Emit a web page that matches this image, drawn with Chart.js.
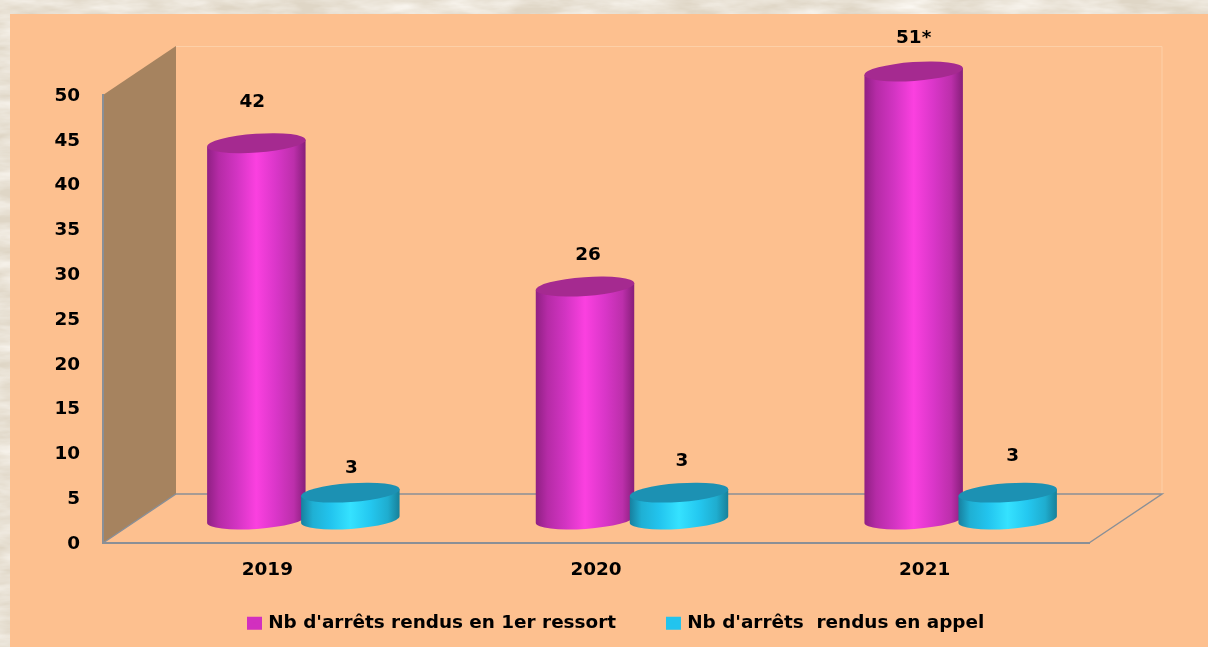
<!DOCTYPE html>
<html>
<head>
<meta charset="utf-8">
<title>Arrêts rendus</title>
<script src="https://cdn.jsdelivr.net/npm/chart.js@4"></script>
<style>
  html, body { margin: 0; height: 100%; overflow: hidden; background: #e9e2d5; }
  #texture { position: absolute; left: 0; top: 0; }
  #panel { position: absolute; left: 10px; top: 14px; width: 1198px; height: 633px; background: #fdc08f; }
  #myChart { position: absolute; left: 0; top: 0; }
</style>
</head>
<body>
<svg id="texture" width="1208" height="647">
  <filter id="paper">
    <feTurbulence type="fractalNoise" baseFrequency="0.018 0.07" numOctaves="4" seed="7"/>
    <feColorMatrix type="matrix" values="0 0 0 0 0.96  0 0 0 0 0.93  0 0 0 0 0.88  1.6 0 0 0 -0.45"/>
  </filter>
  <rect width="1208" height="647" fill="#dfd6c6"/>
  <rect width="1208" height="647" filter="url(#paper)"/>
</svg>
<div id="panel"></div>
<canvas id="myChart" width="1208" height="647"></canvas>
<script>
const years = ['2019', '2020', '2021'];
const premierRessort = [42, 26, 51];
const appel = [3, 3, 3];
const premierLabels = ['42', '26', '51*'];
const appelLabels = ['3', '3', '3'];
const yTicks = [0, 5, 10, 15, 20, 25, 30, 35, 40, 45, 50];

const FONT = 'bold 18.4px "DejaVu Sans"';
const DEPTH_X = 73, DEPTH_Y = 49;
const BAR_SHIFT_X = 36, BAR_SHIFT_Y = 23.5;
const TILT = -0.07;

// decalage manuel des etiquettes par rapport au haut du cylindre
const labelNudge = [
    [[-4, -41], [3, -31], [0, -33]],
    [[1, -24], [3, -31], [5, -36.5]]
];

const looks = [
    { top: '#a52a90', stops: ['#8f2083', '#b52ba6', '#d234c2', '#fb40e0', '#da36c9', '#bc2fab', '#861e79'] },
    { top: '#1c91b3', stops: ['#177f9e', '#1fb0d4', '#22c4ee', '#35e2ff', '#24c8f0', '#1fadcf', '#178099'] }
];
const POS = [0, 0.12, 0.3, 0.5, 0.7, 0.88, 1];

function drawCylinder(ctx, x, topY, baseY, w, look) {
    const rx = w / 2, ry = 9.4;
    const sx = Math.cos(TILT) * rx, sy = Math.sin(TILT) * rx;
    const g = ctx.createLinearGradient(x - rx, 0, x + rx, 0);
    look.stops.forEach((c, i) => g.addColorStop(POS[i], c));

    // corps
    ctx.beginPath();
    ctx.moveTo(x - sx, topY - sy);
    ctx.lineTo(x - sx, baseY - sy);
    ctx.ellipse(x, baseY, rx, ry, TILT, Math.PI, 0, true);
    ctx.lineTo(x + sx, topY + sy);
    ctx.closePath();
    ctx.fillStyle = g;
    ctx.fill();

    // dessus
    ctx.beginPath();
    ctx.ellipse(x, topY, rx, ry, TILT, 0, Math.PI * 2);
    ctx.fillStyle = look.top;
    ctx.fill();
}

const frame3d = {
    id: 'frame3d',
    beforeInit(chart) {
        // le grand ecart entre les deux entrees ne doit pas grandir la legende en hauteur
        const fit = chart.legend.fit;
        chart.legend.fit = function () {
            fit.call(this);
            this.height = 54;
        };
    },
    beforeDraw(chart) {
        const { ctx, chartArea: a, legend } = chart;
        // la legende n'est pas centree sur la zone du graphique
        legend.left = 197;
        legend.right = 197 + legend.width;
        legend.top = 561;

        ctx.save();
        ctx.fillStyle = '#a6835f';
        ctx.beginPath();
        ctx.moveTo(a.left, a.top);
        ctx.lineTo(a.left + DEPTH_X, a.top - DEPTH_Y);
        ctx.lineTo(a.left + DEPTH_X, a.bottom - DEPTH_Y);
        ctx.lineTo(a.left, a.bottom);
        ctx.closePath();
        ctx.fill();

        // fond clair
        ctx.strokeStyle = '#fdd0a8';
        ctx.lineWidth = 1;
        ctx.beginPath();
        ctx.moveTo(a.left + DEPTH_X, a.top - DEPTH_Y + 0.5);
        ctx.lineTo(a.right + DEPTH_X, a.top - DEPTH_Y + 0.5);
        ctx.lineTo(a.right + DEPTH_X, a.bottom - DEPTH_Y);
        ctx.stroke();

        // plancher
        ctx.strokeStyle = '#8a8f96';
        ctx.lineWidth = 1.5;
        ctx.beginPath();
        ctx.moveTo(a.left, a.bottom);
        ctx.lineTo(a.left + DEPTH_X, a.bottom - DEPTH_Y);
        ctx.lineTo(a.right + DEPTH_X, a.bottom - DEPTH_Y);
        ctx.lineTo(a.right, a.bottom);
        ctx.stroke();
        ctx.restore();
    },
    beforeDatasetDraw() {
        return false; // les barres plates sont remplacees par les cylindres
    },
    afterDatasetsDraw(chart) {
        const { ctx, chartArea: a } = chart;
        ctx.save();
        chart.data.datasets.forEach((ds, i) => {
            chart.getDatasetMeta(i).data.forEach(bar => {
                const topY = Math.max(bar.y, a.top) - BAR_SHIFT_Y;
                drawCylinder(ctx, bar.x + BAR_SHIFT_X, topY, bar.base - BAR_SHIFT_Y, bar.width, looks[i]);
            });
        });
        ctx.font = FONT;
        ctx.fillStyle = '#000';
        ctx.textAlign = 'center';
        ctx.textBaseline = 'middle';
        [premierLabels, appelLabels].forEach((texts, i) => {
            chart.getDatasetMeta(i).data.forEach((bar, j) => {
                const topY = Math.max(bar.y, a.top) - BAR_SHIFT_Y;
                const n = labelNudge[i][j];
                ctx.fillText(texts[j], bar.x + BAR_SHIFT_X + n[0], topY + n[1]);
            });
        });
        ctx.restore();
    }
};

const fontOpt = { family: '"DejaVu Sans"', size: 18.4, weight: 'bold' };

new Chart(document.getElementById('myChart'), {
    type: 'bar',
    plugins: [frame3d],
    data: {
        labels: years,
        datasets: [
            // borderWidth sert au carre de legende : petit carre + trait epais, pour coller le texte
            { label: "Nb d'arrêts rendus en 1er ressort", data: premierRessort, backgroundColor: '#d22fbf', borderColor: '#d22fbf', borderWidth: 6 },
            { label: "Nb d'arrêts  rendus en appel", data: appel, backgroundColor: '#22c4ee', borderColor: '#22c4ee', borderWidth: 6 }
        ]
    },
    options: {
        responsive: false,
        animation: false,
        categoryPercentage: 0.572,
        barPercentage: 1.05,
        layout: { padding: { left: 0, top: 95, right: 119, bottom: 0 } },
        scales: {
            x: {
                grid: { display: false, drawTicks: false },
                border: { color: '#8a8f96', width: 2 },
                ticks: { font: fontOpt, color: '#000', padding: 16 },
                afterFit(s) { s.height = 50; }
            },
            y: {
                min: 0,
                max: 50,
                afterBuildTicks(s) { s.ticks = yTicks.map(v => ({ value: v })); },
                grid: { display: false, drawTicks: false },
                border: { color: '#8a8f96', width: 2 },
                ticks: { font: fontOpt, color: '#000', padding: 23, labelOffset: 1 },
                afterFit(s) { s.width = 103; }
            }
        },
        plugins: {
            tooltip: { enabled: false },
            legend: {
                position: 'bottom',
                align: 'start',
                labels: { font: fontOpt, color: '#000', boxWidth: 9, boxHeight: 7, padding: 53 }
            }
        }
    }
});
</script>
</body>
</html>
